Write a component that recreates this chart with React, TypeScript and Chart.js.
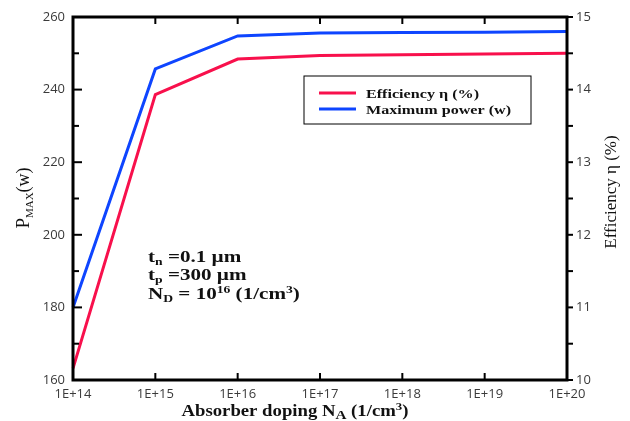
import { useEffect, useRef } from "react";
import { Chart, registerables } from "chart.js";

Chart.register(...registerables);

// Absorber doping levels (1/cm³) shown along the x axis
const dopingLabels = ["1E+14", "1E+15", "1E+16", "1E+17", "1E+18", "1E+19", "1E+20"];
// Maximum power (w), left axis
const maxPower = [180, 245.7, 254.8, 255.6, 255.7, 255.8, 256.0];
// Efficiency η (%), right axis
const efficiency = [10.16, 13.93, 14.42, 14.47, 14.48, 14.49, 14.5];

const powerRange = { min: 160, max: 260, major: 20, minor: 10 };
const effRange = { min: 10, max: 15, major: 1, minor: 0.5 };

const RED = "#f8104c";
const BLUE = "#0e45ff";
const SERIF = "'Liberation Serif', 'Times New Roman', serif";
const SANS = "'Open Sans', 'DejaVu Sans', sans-serif";

type Seg = { t: string; size: number; dy?: number };

function drawRich(
  ctx: CanvasRenderingContext2D,
  segs: Seg[],
  x: number,
  y: number,
  opts: { align: "left" | "center"; sx: number; weight: string; rotate?: boolean }
) {
  ctx.save();
  ctx.translate(x, y);
  if (opts.rotate) ctx.rotate(-Math.PI / 2);
  ctx.scale(opts.sx, 1);
  ctx.textBaseline = "alphabetic";
  ctx.textAlign = "left";
  ctx.fillStyle = "#111";
  let total = 0;
  const widths = segs.map((s) => {
    ctx.font = `${opts.weight} ${s.size}px ${SERIF}`;
    const w = ctx.measureText(s.t).width;
    total += w;
    return w;
  });
  let cx = opts.align === "center" ? -total / 2 : 0;
  segs.forEach((s, i) => {
    ctx.font = `${opts.weight} ${s.size}px ${SERIF}`;
    ctx.fillText(s.t, cx, s.dy ?? 0);
    cx += widths[i];
  });
  ctx.restore();
}

const decorPlugin = {
  id: "frameAndNotes",
  afterDatasetsDraw(chart: any) {
    const ctx: CanvasRenderingContext2D = chart.ctx;
    const ca = chart.chartArea;
    const x = chart.scales.x;
    const yL = chart.scales.yPower;
    const yR = chart.scales.yEff;

    ctx.save();
    ctx.strokeStyle = "#000";
    ctx.lineCap = "butt";

    // inward ticks on the left axis
    ctx.lineWidth = 2;
    for (let v = powerRange.min; v <= powerRange.max; v += powerRange.minor) {
      const py = yL.getPixelForValue(v);
      const len = v % powerRange.major === 0 ? 9 : 6;
      ctx.beginPath();
      ctx.moveTo(ca.left, py);
      ctx.lineTo(ca.left + len, py);
      ctx.stroke();
    }
    // outward ticks on the right axis
    for (let v = effRange.min; v <= effRange.max + 1e-9; v += effRange.minor) {
      const py = yR.getPixelForValue(v);
      ctx.beginPath();
      ctx.moveTo(ca.right, py);
      ctx.lineTo(ca.right + 6, py);
      ctx.stroke();
    }
    // inward ticks on bottom and top
    dopingLabels.forEach((_, i) => {
      const px = x.getPixelForValue(i);
      ctx.beginPath();
      ctx.moveTo(px, ca.bottom);
      ctx.lineTo(px, ca.bottom - 7);
      ctx.moveTo(px, ca.top);
      ctx.lineTo(px, ca.top + 7);
      ctx.stroke();
    });

    // plot frame
    ctx.lineWidth = 3;
    ctx.strokeRect(ca.left, ca.top, ca.right - ca.left, ca.bottom - ca.top);

    // legend box
    const lx = ca.left + 231;
    const ly = ca.top + 59;
    ctx.lineWidth = 1;
    ctx.strokeRect(lx, ly, 227, 48);
    const entries = [
      { color: RED, text: "Efficiency η (%)" },
      { color: BLUE, text: "Maximum power (w)" },
    ];
    entries.forEach((e, i) => {
      const cy = ly + 17 + i * 16;
      ctx.strokeStyle = e.color;
      ctx.lineWidth = 3;
      ctx.beginPath();
      ctx.moveTo(lx + 15, cy);
      ctx.lineTo(lx + 52, cy);
      ctx.stroke();
      drawRich(ctx, [{ t: e.text, size: 13 }], lx + 62, cy + 4.5, {
        align: "left",
        sx: 1.24,
        weight: "bold",
      });
    });
    ctx.restore();

    // device parameters
    const ax = ca.left + 75;
    drawRich(
      ctx,
      [
        { t: "t", size: 17 },
        { t: "n", size: 11, dy: 3 },
        { t: " =0.1 µm", size: 17 },
      ],
      ax,
      262,
      { align: "left", sx: 1.24, weight: "bold" }
    );
    drawRich(
      ctx,
      [
        { t: "t", size: 17 },
        { t: "p", size: 11, dy: 3 },
        { t: " =300 µm", size: 17 },
      ],
      ax,
      280,
      { align: "left", sx: 1.24, weight: "bold" }
    );
    drawRich(
      ctx,
      [
        { t: "N", size: 17 },
        { t: "D", size: 11, dy: 3 },
        { t: " = 10", size: 17 },
        { t: "16", size: 11, dy: -6 },
        { t: " (1/cm", size: 17 },
        { t: "3", size: 11, dy: -6 },
        { t: ")", size: 17 },
      ],
      ax,
      299,
      { align: "left", sx: 1.24, weight: "bold" }
    );

    // axis titles
    drawRich(
      ctx,
      [
        { t: "Absorber doping N", size: 16 },
        { t: "A", size: 13, dy: 3 },
        { t: " (1/cm", size: 16 },
        { t: "3", size: 11, dy: -6 },
        { t: ")", size: 16 },
      ],
      (ca.left + ca.right) / 2 - 25,
      416,
      { align: "center", sx: 1.17, weight: "bold" }
    );
    drawRich(
      ctx,
      [
        { t: "P", size: 19 },
        { t: "MAX", size: 11, dy: 4 },
        { t: "(w)", size: 18 },
      ],
      29,
      198,
      { align: "center", sx: 1, weight: "normal", rotate: true }
    );
    drawRich(ctx, [{ t: "Efficiency η (%)", size: 17 }], 616, 192, {
      align: "center",
      sx: 1,
      weight: "normal",
      rotate: true,
    });
  },
};

export default function App() {
  const canvasRef = useRef<HTMLCanvasElement | null>(null);

  useEffect(() => {
    if (!canvasRef.current) return;
    const tickFont = { family: SANS, size: 13 };
    const chart = new Chart(canvasRef.current, {
      type: "line",
      data: {
        labels: dopingLabels,
        datasets: [
          {
            label: "Efficiency η (%)",
            data: efficiency,
            yAxisID: "yEff",
            borderColor: RED,
            borderWidth: 3,
            pointRadius: 0,
            tension: 0,
          },
          {
            label: "Maximum power (w)",
            data: maxPower,
            yAxisID: "yPower",
            borderColor: BLUE,
            borderWidth: 3,
            pointRadius: 0,
            tension: 0,
          },
        ],
      },
      options: {
        responsive: false,
        animation: false,
        layout: { padding: { top: 17, left: 0, right: 0, bottom: 0 } },
        plugins: { legend: { display: false }, tooltip: { enabled: false } },
        scales: {
          x: {
            type: "category",
            offset: false,
            grid: { display: false, drawTicks: false },
            border: { display: false },
            ticks: { font: tickFont, color: "#3a3a3a", padding: 6, maxRotation: 0, autoSkip: false },
            afterFit: (s: any) => {
              s.height = 41;
            },
          },
          yPower: {
            position: "left",
            min: powerRange.min,
            max: powerRange.max,
            grid: { display: false, drawTicks: false },
            border: { display: false },
            ticks: { stepSize: powerRange.major, font: tickFont, color: "#3a3a3a", padding: 8 },
            afterFit: (s: any) => {
              s.width = 73;
            },
          },
          yEff: {
            position: "right",
            min: effRange.min,
            max: effRange.max,
            grid: { display: false, drawTicks: false },
            border: { display: false },
            ticks: { stepSize: effRange.major, font: tickFont, color: "#3a3a3a", padding: 9 },
            afterFit: (s: any) => {
              s.width = 63;
            },
          },
        },
      },
      plugins: [decorPlugin],
    });
    return () => chart.destroy();
  }, []);

  return (
    <div style={{ position: "absolute", left: 0, top: 0, width: 630, height: 421, background: "#fff" }}>
      <canvas ref={canvasRef} width={630} height={421} style={{ display: "block" }} />
    </div>
  );
}
